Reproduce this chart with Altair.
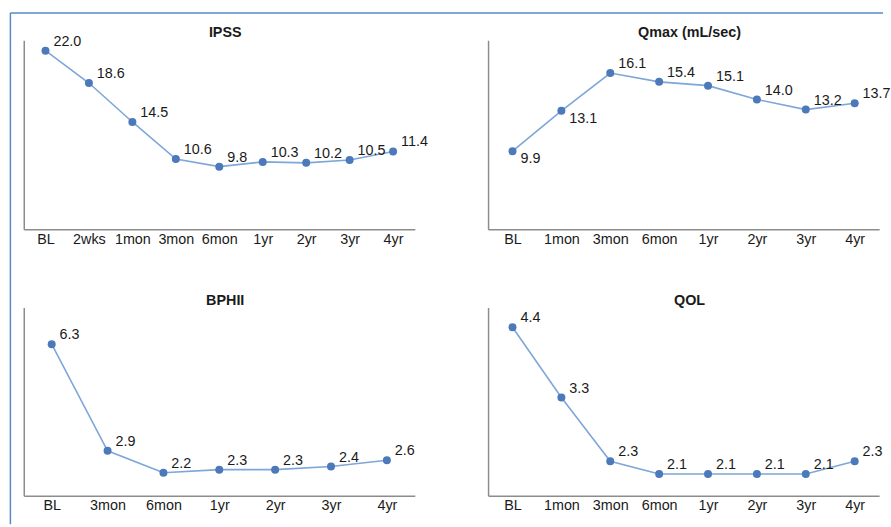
import altair as alt
import pandas as pd

# ---- data ----
IPSS_CATS = ["BL", "2wks", "1mon", "3mon", "6mon", "1yr", "2yr", "3yr", "4yr"]
IPSS_VALS = [22.0, 18.6, 14.5, 10.6, 9.8, 10.3, 10.2, 10.5, 11.4]

QMAX_CATS = ["BL", "1mon", "3mon", "6mon", "1yr", "2yr", "3yr", "4yr"]
QMAX_VALS = [9.9, 13.1, 16.1, 15.4, 15.1, 14.0, 13.2, 13.7]

BPHII_CATS = ["BL", "3mon", "6mon", "1yr", "2yr", "3yr", "4yr"]
BPHII_VALS = [6.3, 2.9, 2.2, 2.3, 2.3, 2.4, 2.6]

QOL_CATS = ["BL", "1mon", "3mon", "6mon", "1yr", "2yr", "3yr", "4yr"]
QOL_VALS = [4.4, 3.3, 2.3, 2.1, 2.1, 2.1, 2.1, 2.3]

TITLES = ["IPSS", "Qmax (mL/sec)", "BPHII", "QOL"]

# ---- styling ----
W = 395
LINE_C = "#7EA6D8"
PT_C = "#4B79BA"
AXIS_C = "#8C8C8C"
TXT_C = "#1A1A1A"
BORDER_C = "#5B88C6"
FONT = "Liberation Sans"
FS = 14.5


def panel(title, cats, vals, lo, hi, h, below=(), border=False):
    df = pd.DataFrame({"t": cats, "v": vals})
    df["below"] = df["t"].isin(list(below))
    x = alt.X(
        "t:N", sort=cats,
        scale=alt.Scale(type="point", padding=0.5),
        axis=alt.Axis(title=None, labelAngle=0, ticks=False, grid=False,
                      domainColor=AXIS_C, domainWidth=1.5, labelPadding=3,
                      labelFontSize=FS, labelFont=FONT, labelColor=TXT_C,
                      labelOverlap=False),
    )
    y = alt.Y(
        "v:Q",
        scale=alt.Scale(domain=[lo, hi], nice=False, zero=False),
        axis=alt.Axis(title=None, labels=False, ticks=False, grid=False,
                      domainColor=AXIS_C, domainWidth=1.5,
                      minExtent=0, maxExtent=0),
    )
    base = alt.Chart(df).encode(x=x, y=y)
    line = base.mark_line(color=LINE_C, strokeWidth=1.6)
    pts = base.mark_circle(color=PT_C, size=65, opacity=1)
    lab_up = base.transform_filter("!datum.below").mark_text(
        align="left", baseline="middle", dx=8, dy=-9,
        fontSize=FS, font=FONT, color=TXT_C,
    ).encode(text=alt.Text("v:Q", format=".1f"))
    lab_dn = base.transform_filter("datum.below").mark_text(
        align="left", baseline="middle", dx=8, dy=8,
        fontSize=FS, font=FONT, color=TXT_C,
    ).encode(text=alt.Text("v:Q", format=".1f"))
    ttl = alt.Chart(pd.DataFrame({"title": [title]})).mark_text(
        align="center", baseline="alphabetic", fontSize=14.5,
        fontWeight="bold", font=FONT, color=TXT_C,
    ).encode(x=alt.value(W / 2 + 6), y=alt.value(-3), text="title:N")
    layers = [line, pts, lab_up, lab_dn, ttl]
    if border:
        bdf = pd.DataFrame({"b": [0]})
        top = alt.Chart(bdf).mark_rule(color=BORDER_C, strokeWidth=1.5).encode(
            x=alt.value(-13.5), x2=alt.value(868), y=alt.value(-27.5))
        left = alt.Chart(bdf).mark_rule(color=BORDER_C, strokeWidth=1.5).encode(
            x=alt.value(-13.5), y=alt.value(-27.5), y2=alt.value(489))
        layers += [top, left]
    return alt.layer(*layers).properties(width=W, height=h)


p1 = panel(TITLES[0], IPSS_CATS, IPSS_VALS, 3.2, 23.1, 191, border=True)
p2 = panel(TITLES[1], QMAX_CATS, QMAX_VALS, 3.7, 18.7, 191, below=["BL", "1mon"])
p3 = panel(TITLES[2], BPHII_CATS, BPHII_VALS, 1.47, 7.47, 190)
p4 = panel(TITLES[3], QOL_CATS, QOL_VALS, 1.76, 4.71, 190)

chart = alt.concat(
    p1, p2, p3, p4, columns=2,
    spacing=alt.RowColnumber(row=79, column=74),
    bounds="flush",
).resolve_scale(x="independent", y="independent").properties(
    padding={"left": 9, "top": 9, "right": 0, "bottom": 0},
    background="white",
).configure(font=FONT).configure_view(stroke=None, strokeWidth=0)

chart.save("out.html", embed_options={"renderer": "svg", "actions": False})
